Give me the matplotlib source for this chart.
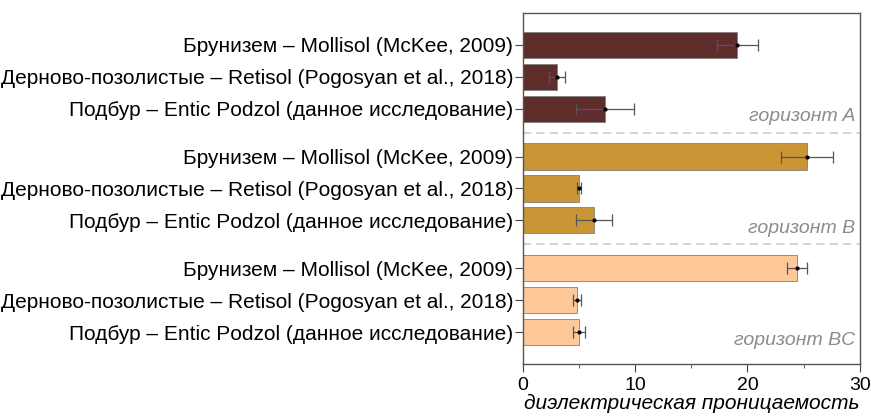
import matplotlib
matplotlib.use("Agg")
import matplotlib.pyplot as plt
from matplotlib.ticker import MultipleLocator

plt.rcParams["font.family"] = ["Liberation Sans", "DejaVu Sans"]

soils = [
    "Брунизем – Mollisol (McKee, 2009)",
    "Дерново-позолистые – Retisol (Pogosyan et al., 2018)",
    "Подбур – Entic Podzol (данное исследование)",
]
horizons = ["горизонт A", "горизонт B", "горизонт BC"]
values_a = [19.1, 3.0, 7.3]
errors_a = [1.8, 0.7, 2.6]
values_b = [25.3, 5.0, 6.3]
errors_b = [2.3, 0.15, 1.6]
values_bc = [24.4, 4.8, 5.0]
errors_bc = [0.9, 0.35, 0.55]
colors = ["#602d2d", "#ca9535", "#fec899"]

groups = [(values_a, errors_a), (values_b, errors_b), (values_bc, errors_bc)]

fig = plt.figure(figsize=(8.71, 4.17), dpi=100)
ax = fig.add_axes([0.6005, 0.127, 0.3865, 0.842])

positions = []
labels = []
for g, (vals, errs) in enumerate(groups):
    pos = [g * 3.5 + i for i in range(len(vals))]
    ax.barh(pos, vals, height=0.82, color=colors[g], edgecolor="#808080",
            linewidth=0.6, zorder=2)
    ax.errorbar(vals, pos, xerr=errs, fmt="o", ms=2, color="black",
                ecolor="#555555", elinewidth=0.9, capsize=4, capthick=0.9,
                zorder=3)
    ax.text(29.6, pos[-1] + 0.25, horizons[g], ha="right", va="center",
            style="italic", fontsize=14, color="#8c8c8c")
    if g < len(groups) - 1:
        ax.axhline(pos[-1] + 0.75, color="#cccccc", linestyle=(0, (5, 3)),
                   linewidth=1.2, zorder=1)
    positions += pos
    labels += soils

ax.set_yticks(positions)
ax.set_yticklabels(labels, fontsize=15)
ax.set_ylim(10, -1)
ax.set_xlim(0, 30)
ax.xaxis.set_major_locator(MultipleLocator(10))
ax.xaxis.set_minor_locator(MultipleLocator(5))
ax.tick_params(axis="x", which="major", direction="out", length=6,
               labelsize=14, color="#444444", pad=3)
ax.tick_params(axis="x", which="minor", direction="out", length=3,
               color="#444444")
ax.tick_params(axis="y", direction="out", length=6, color="#444444", pad=1)
for s in ax.spines.values():
    s.set_color("#555555")
    s.set_linewidth(1.0)
ax.set_xlabel("диэлектрическая проницаемость", style="italic", fontsize=15,
              labelpad=0)

fig.savefig("out.png", dpi=100)
